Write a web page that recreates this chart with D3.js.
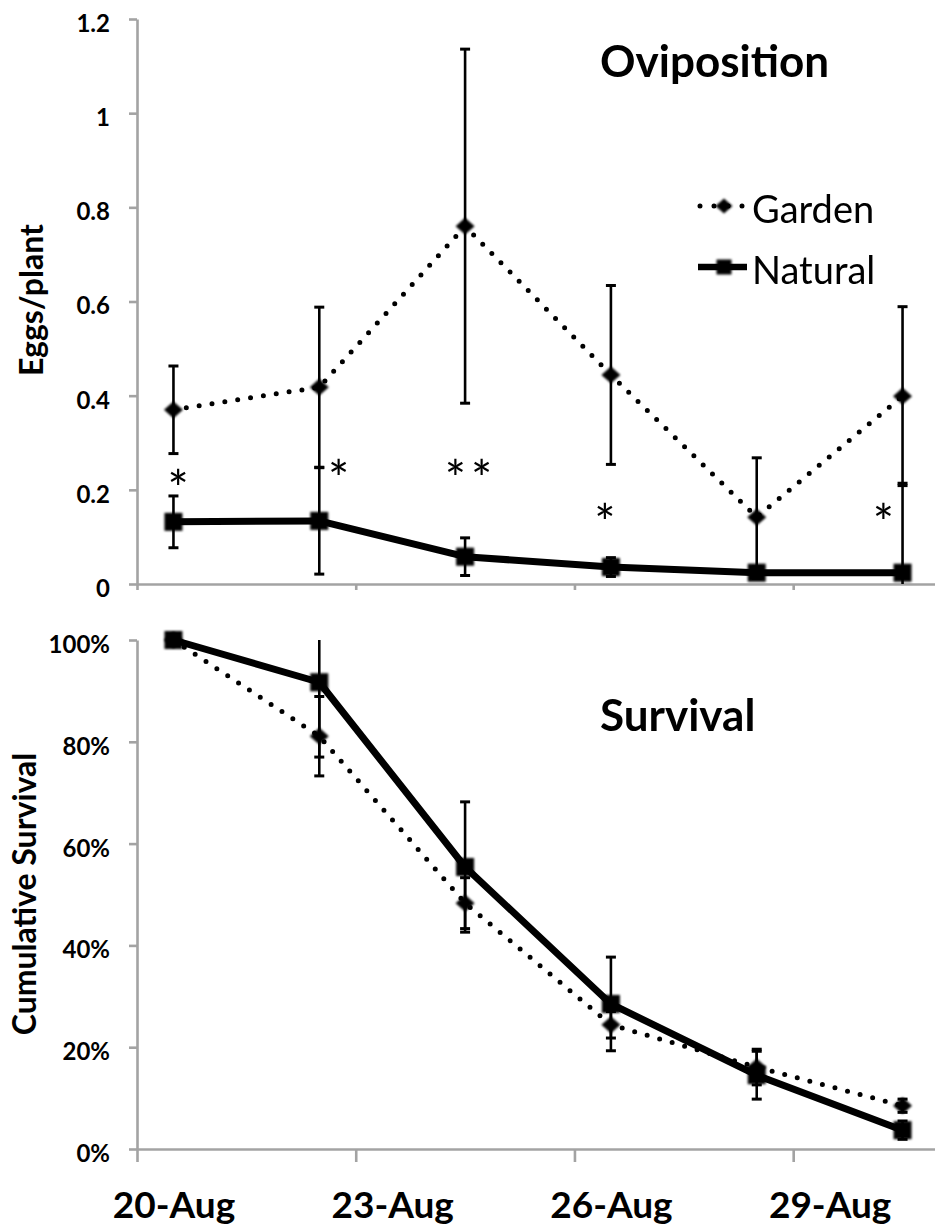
<!DOCTYPE html>
<html>
<head>
<meta charset="utf-8">
<script src="https://cdn.jsdelivr.net/npm/d3@7"></script>
<style>
  html, body { margin: 0; padding: 0; background: #fff; }
  svg { display: block; }
  text { font-family: Lato, "Open Sans", sans-serif; }
</style>
</head>
<body>
<svg id="chart" width="935" height="1230"></svg>
<script>
// ---------------- data ----------------
const sampleDays = [20, 22, 24, 26, 28, 30];          // day of August
const tickDays = [20, 23, 26, 29];
const tickLabels = ["20-Aug", "23-Aug", "26-Aug", "29-Aug"];
const seriesNames = ["Garden", "Natural"];

const eggsGarden     = [0.370, 0.418, 0.760, 0.444, 0.142, 0.399];
const eggsGardenErr  = [0.093, 0.170, 0.376, 0.190, 0.126, 0.190];
const eggsNatural    = [0.132, 0.134, 0.058, 0.036, 0.024, 0.024];
const eggsNaturalErr = [0.055, 0.113, 0.040, 0.020, 0.012, 0.190];

const survGarden     = [1.000, 0.811, 0.483, 0.244, 0.161, 0.085];
const survGardenErr  = [0.000, 0.078, 0.050, 0.026, 0.035, 0.013];
const survNatural    = [1.000, 0.917, 0.554, 0.285, 0.145, 0.037];
const survNaturalErr = [0.000, 0.147, 0.128, 0.092, 0.047, 0.018];

const eggsTicks = [0, 0.2, 0.4, 0.6, 0.8, 1.0, 1.2];
const survTicks = [0, 0.2, 0.4, 0.6, 0.8, 1.0];

// significance markers (eggs panel): label, height (eggs/plant), day shift
const sigLabels = ["*", "*", "**", "*", "", "*"];
const sigLevel  = [0.225, 0.246, 0.246, 0.153, 0, 0.153];
const sigShift  = [0.10, 0.30, 0.08, -0.05, 0, -0.23];

// ---------------- layout ----------------
const svg = d3.select("#chart");
const FONT = "Lato, 'Open Sans', sans-serif";

const x = d3.scaleLinear().domain([20, 31]).range([137, 939]);
const halfDay = x(20.5) - x(20);
const yTop = d3.scaleLinear().domain([0, 1.2]).range([584, 19]);
const yBot = d3.scaleLinear().domain([0, 1]).range([1149, 640]);

const defs = svg.append("defs");
defs.append("filter").attr("id", "soft")
  .attr("x", "-50%").attr("y", "-50%").attr("width", "200%").attr("height", "200%")
  .append("feGaussianBlur").attr("stdDeviation", 0.8);

const diamondWide = {
  draw(ctx, size) {
    const r = Math.sqrt(size) / 2;
    ctx.moveTo(0, -r * 0.88);
    ctx.lineTo(r, 0);
    ctx.lineTo(0, r * 0.88);
    ctx.lineTo(-r, 0);
    ctx.closePath();
  }
};
const diamondPath = d3.symbol().type(diamondWide).size(19 * 19)();
const squarePath = d3.symbol().type(d3.symbolSquare).size(18 * 18)();

function styleAxis(g) {
  g.selectAll(".domain").attr("stroke", "#a3a3a3").attr("stroke-width", 2.6);
  g.selectAll(".tick line").attr("stroke", "#a3a3a3").attr("stroke-width", 2.6);
  g.selectAll("text").attr("font-family", FONT).attr("font-weight", "bold").attr("fill", "#000");
}

function panel(y, ticks, fmt, xTickSize, showXLabels, garden, gErr, natural, nErr) {
  const g = svg.append("g");
  const xa = g.append("g").attr("transform", `translate(0,${y(0)})`)
    .call(d3.axisBottom(x).tickValues(tickDays).tickSize(xTickSize).tickSizeOuter(0)
      .tickFormat((d, i) => showXLabels ? tickLabels[i] : ""));
  styleAxis(xa);
  xa.selectAll("text").attr("font-size", 37).attr("x", halfDay).attr("y", 69).attr("dy", 0);
  const ya = g.append("g").attr("transform", `translate(${x(20)},0)`)
    .call(d3.axisLeft(y).tickValues(ticks).tickSize(8).tickPadding(19).tickSizeOuter(0).tickFormat(fmt));
  styleAxis(ya);
  ya.selectAll("text").attr("font-size", 24).attr("dy", "0.52em");

  const clampY = v => y(Math.max(y.domain()[0], Math.min(y.domain()[1], v)));
  const inDomain = v => v >= y.domain()[0] && v <= y.domain()[1];

  function errBars(vals, errs) {
    const eb = g.append("g").attr("stroke", "#000").attr("stroke-width", 2.6);
    vals.forEach((v, i) => {
      if (!errs[i]) return;
      const cx = x(sampleDays[i] + 0.5);
      const hi = v + errs[i], lo = v - errs[i];
      eb.append("line").attr("x1", cx).attr("x2", cx).attr("y1", clampY(hi)).attr("y2", clampY(lo));
      [hi, lo].forEach(e => {
        if (inDomain(e)) eb.append("line").attr("x1", cx - 5).attr("x2", cx + 5)
          .attr("y1", y(e)).attr("y2", y(e)).attr("stroke-width", 3);
      });
    });
  }
  errBars(garden, gErr);
  errBars(natural, nErr);

  const line = d3.line().x((d, i) => x(sampleDays[i] + 0.5)).y(d => y(d));
  g.append("path").datum(garden).attr("d", line).attr("fill", "none").attr("stroke", "#000")
    .attr("stroke-width", 5).attr("stroke-dasharray", "0 13").attr("stroke-linecap", "round");
  g.append("path").datum(natural).attr("d", line).attr("fill", "none").attr("stroke", "#000")
    .attr("stroke-width", 7).attr("stroke-linejoin", "round");

  g.append("g").attr("filter", "url(#soft)").selectAll("path").data(garden).join("path")
    .attr("d", diamondPath).attr("fill", "#000")
    .attr("transform", (d, i) => `translate(${x(sampleDays[i] + 0.5)},${y(d)})`);
  g.append("g").attr("filter", "url(#soft)").selectAll("path").data(natural).join("path")
    .attr("d", squarePath).attr("fill", "#000")
    .attr("transform", (d, i) => `translate(${x(sampleDays[i] + 0.5)},${y(d)})`);
  return g;
}

const topPanel = panel(yTop, eggsTicks, d => String(+d.toFixed(1)), 6, false,
  eggsGarden, eggsGardenErr, eggsNatural, eggsNaturalErr);
const botPanel = panel(yBot, survTicks, d3.format(".0%"), 13, true,
  survGarden, survGardenErr, survNatural, survNaturalErr);

const sigSize = 50;
topPanel.append("g").selectAll("text").data(sigLabels).join("text")
  .attr("x", (d, i) => x(sampleDays[i] + 0.5 + sigShift[i]))
  .attr("y", (d, i) => yTop(sigLevel[i]) + sigSize * 0.58)
  .attr("text-anchor", "middle").attr("font-size", sigSize).attr("font-family", FONT)
  .attr("letter-spacing", 5)
  .text(d => d);

svg.append("text").attr("x", 600).attr("y", 77).attr("font-size", 44).attr("font-weight", "bold")
  .attr("font-family", FONT).text("Oviposition");
svg.append("text").attr("x", 600).attr("y", 731).attr("font-size", 44).attr("font-weight", "bold")
  .attr("font-family", FONT).text("Survival");

svg.append("text").attr("transform", "translate(43,300) rotate(-90)").attr("text-anchor", "middle")
  .attr("font-size", 32).attr("font-weight", "bold").attr("font-family", FONT).text("Eggs/plant");
svg.append("text").attr("transform", "translate(36,894) rotate(-90)").attr("text-anchor", "middle")
  .attr("font-size", 32).attr("font-weight", "bold").attr("font-family", FONT).text("Cumulative Survival");

const lg = svg.append("g");
const legendRows = [
  { name: seriesNames[0], y: 206 },
  { name: seriesNames[1], y: 267 }
];
lg.append("line").attr("x1", 700).attr("x2", 743).attr("y1", legendRows[0].y).attr("y2", legendRows[0].y)
  .attr("stroke", "#000").attr("stroke-width", 5).attr("stroke-dasharray", "0 14").attr("stroke-linecap", "round");
lg.append("path").attr("d", d3.symbol().type(diamondWide).size(17 * 17)()).attr("transform", `translate(724,${legendRows[0].y})`)
  .attr("filter", "url(#soft)");
lg.append("line").attr("x1", 698).attr("x2", 747).attr("y1", legendRows[1].y).attr("y2", legendRows[1].y)
  .attr("stroke", "#000").attr("stroke-width", 6.5);
lg.append("path").attr("d", d3.symbol().type(d3.symbolSquare).size(15 * 15)()).attr("transform", `translate(724,${legendRows[1].y})`)
  .attr("filter", "url(#soft)");
lg.selectAll("text.leg").data(legendRows).join("text").attr("class", "leg")
  .attr("x", 752).attr("y", d => d.y + 17).attr("font-size", 38).attr("font-family", FONT)
  .text(d => d.name);
</script>
</body>
</html>
